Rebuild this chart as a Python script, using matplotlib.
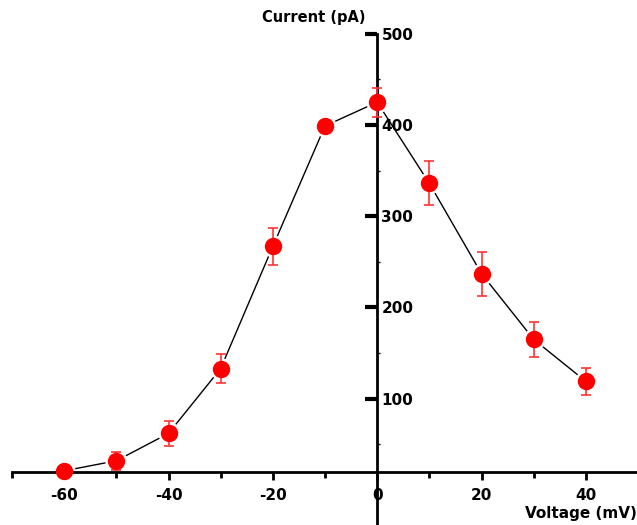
import numpy as np
import matplotlib.pyplot as plt
from matplotlib.ticker import MultipleLocator, FixedLocator

plt.rcParams['axes.unicode_minus'] = False

voltage = [-60, -50, -40, -30, -20, -10, 0, 10, 20, 30, 40]
current = [21, 32, 62, 133, 267, 399, 425, 336, 237, 165, 119]
current_err = [0, 10, 14, 16, 20, 0, 16, 24, 24, 19, 15]

x_ticks = [-60, -40, -20, 0, 20, 40]
y_ticks = [100, 200, 300, 400, 500]

fig = plt.figure(figsize=(6.37, 5.25), dpi=100)
ax = fig.add_axes([0, 0, 1, 1])
ax.set_xlim(-72.3, 49.8)
ax.set_ylim(-38.4, 537)

# connecting line, with white halos so it stops short of each marker
ax.plot(voltage, current, color='black', lw=1, zorder=1)
ax.plot(voltage, current, 'o', ms=15, color='white', zorder=2)
ax.errorbar(voltage, current, yerr=current_err, fmt='none', ecolor='#ff3333',
            elinewidth=1.2, capsize=3.5, capthick=1.2, zorder=3)
ax.plot(voltage, current, 'o', ms=11.5, color='red', mec='red', zorder=4)

# axes crossing in the middle of the plot
for s in ['top', 'left']:
    ax.spines[s].set_visible(False)
ax.spines['right'].set_position(('data', 0))
ax.spines['right'].set_bounds(-38.4, 500)
ax.spines['bottom'].set_position(('data', 20))
ax.spines['bottom'].set_bounds(-70, 50)
for s in ['right', 'bottom']:
    ax.spines[s].set_linewidth(2)

ax.yaxis.tick_right()
ax.yaxis.set_major_locator(FixedLocator(y_ticks))
ax.yaxis.set_minor_locator(FixedLocator([50, 150, 250, 350, 450]))
ax.tick_params(axis='y', which='major', direction='in', length=8.5, width=3, pad=3)
ax.tick_params(axis='y', which='minor', direction='out', length=2.5, width=1)

ax.xaxis.set_major_locator(FixedLocator(x_ticks))
ax.xaxis.set_minor_locator(MultipleLocator(10))
ax.tick_params(axis='x', which='major', direction='out', length=6, width=2, pad=6)
ax.tick_params(axis='x', which='minor', direction='out', length=4.5, width=2)

for lab in ax.get_xticklabels() + ax.get_yticklabels():
    lab.set_fontweight('bold')
    lab.set_fontsize(11)

fig.text(0.411, 0.967, 'Current (pA)', fontsize=10.5, fontweight='bold',
         ha='left', va='center')
fig.text(0.824, 0.021, 'Voltage (mV)', fontsize=11, fontweight='bold',
         ha='left', va='center')

fig.savefig('out.png', dpi=100)
